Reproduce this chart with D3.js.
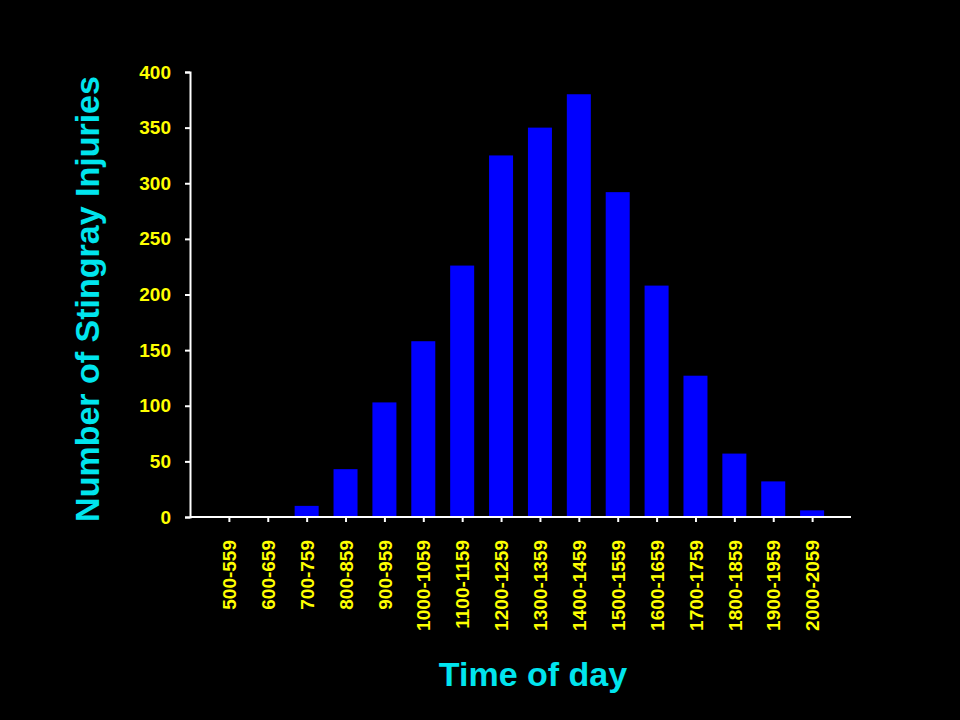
<!DOCTYPE html>
<html>
<head>
<meta charset="utf-8">
<script src="https://cdn.jsdelivr.net/npm/d3@7"></script>
<style>
  body { margin: 0; background: #000; }
  svg text { font-family: "Liberation Sans", Arial, sans-serif; font-weight: bold; }
</style>
</head>
<body>
<svg id="chart" width="960" height="720"></svg>
<script>
const categories = ['500-559', '600-659', '700-759', '800-859', '900-959', '1000-1059',
  '1100-1159', '1200-1259', '1300-1359', '1400-1459', '1500-1559', '1600-1659',
  '1700-1759', '1800-1859', '1900-1959', '2000-2059']
const injuries = [0, 0, 10, 43, 103, 158, 226, 325, 350, 380, 292, 208, 127, 57, 32, 6]
const yTicks = [0, 50, 100, 150, 200, 250, 300, 350, 400]

const svg = d3.select('#chart')
svg.append('rect').attr('width', 960).attr('height', 720).attr('fill', '#000')

const x = d3.scalePoint().domain(categories).range([190, 851]).padding(1)
const y = d3.scaleLinear().domain([0, 400]).range([517, 72])

// bars
svg.selectAll('rect.bar')
  .data(injuries)
  .enter()
  .append('rect')
  .attr('class', 'bar')
  .attr('x', (d, i) => x(categories[i]) - 12)
  .attr('width', 24)
  .attr('y', d => y(d))
  .attr('height', d => y(0) - y(d))
  .attr('fill', '#0000ff')

// y axis
const yAxis = svg.append('g')
  .attr('transform', 'translate(190,0)')
  .call(d3.axisLeft(y).tickValues(yTicks).tickSize(5).tickPadding(14))
yAxis.selectAll('path, line').attr('stroke', '#fff').attr('stroke-width', 2)
yAxis.selectAll('text').attr('fill', '#ffff00').style('font-size', '19px')

// x axis
const xAxis = svg.append('g')
  .attr('transform', 'translate(0,517)')
  .call(d3.axisBottom(x).tickSize(5).tickSizeOuter(0).tickPadding(8))
xAxis.select('path').attr('d', 'M190,0H851')
xAxis.selectAll('path, line').attr('stroke', '#fff').attr('stroke-width', 2)
xAxis.selectAll('text')
  .attr('fill', '#ffff00')
  .style('font-size', '19px')
  .attr('text-anchor', 'end')
  .attr('dy', '0.35em')
  .attr('transform', 'translate(0,18) rotate(-90)')
  .attr('x', -5)
  .attr('y', 0)

// titles
svg.append('text')
  .attr('x', 533).attr('y', 686)
  .attr('text-anchor', 'middle')
  .attr('fill', '#00e5ee')
  .style('font-size', '34px')
  .text('Time of day')

svg.append('text')
  .attr('transform', 'translate(99,299) rotate(-90)')
  .attr('text-anchor', 'middle')
  .attr('fill', '#00e5ee')
  .style('font-size', '34px')
  .text('Number of Stingray Injuries')
</script>
</body>
</html>
